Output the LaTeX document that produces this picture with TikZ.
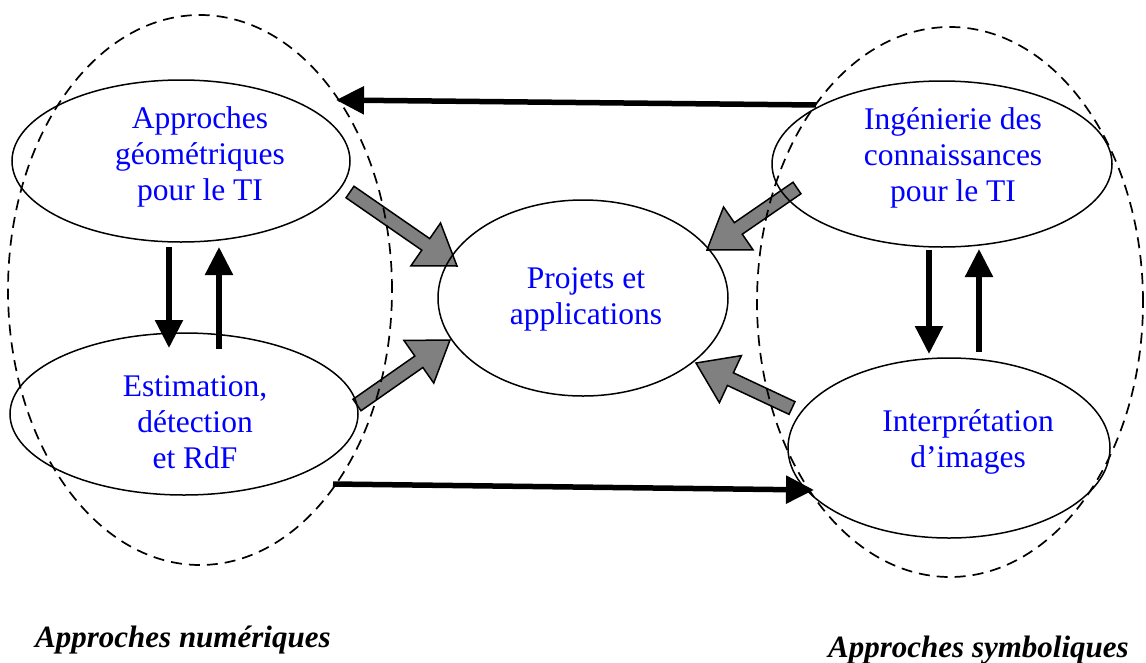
\documentclass[tikz,border=0pt]{standalone}
\usepackage{fontspec}
\setmainfont{Liberation Serif}
\usetikzlibrary{arrows.meta,calc,shapes.geometric}
\pgfdeclarelayer{background}
\pgfsetlayers{background,main}
\tikzset{
  oval/.style={draw, ellipse, line width=1.5pt, inner sep=0pt},
  zone/.style={draw, ellipse, dash pattern=on 11pt off 7pt, line width=1.7pt, inner sep=0pt},
  lbl/.style={text=blue, align=center, inner sep=0pt, font=\fontsize{31.5}{36}\selectfont},
  groupcap/.style={font=\fontsize{31}{36}\selectfont\bfseries\itshape, anchor=base west, inner sep=0pt},
  bigarrow/.style={line width=5.5pt, -{Triangle[length=28pt,width=27pt]}},
  blockstyle/.style={fill=gray, draw=black, line width=1.5pt, line join=miter},
}
\newcommand\blockarrow[2]{%
  \coordinate (bacc) at ($(#2)!38pt!(#1)$);
  \draw[blockstyle] ($(#1)!7pt!90:(#2)$) -- ($(bacc)!7pt!90:(#2)$) -- ($(bacc)!26pt!90:(#2)$) -- (#2)
    -- ($(bacc)!26pt!-90:(#2)$) -- ($(bacc)!7pt!-90:(#2)$) -- ($(#1)!7pt!-90:(#2)$) -- cycle;
}
\begin{document}
\begin{tikzpicture}[x=1pt,y=-1pt]
\useasboundingbox (0,0) rectangle (1146,662);
% zones
\node[zone, minimum width=384pt, minimum height=550pt] (numz) at (200,290) {};
\node[zone, minimum width=386pt, minimum height=550pt] (symz) at (950,302) {};
% ellipses
\node[oval, minimum width=338pt, minimum height=162pt] (geo) at (181,161) {};
\node[oval, minimum width=348pt, minimum height=162pt] (est) at (184,414) {};
\node[oval, minimum width=290pt, minimum height=196pt] (proj) at (583,298) {};
\node[oval, minimum width=340pt, minimum height=166pt] (ing) at (942,164) {};
\node[oval, minimum width=322pt, minimum height=180pt] (interp) at (949,448) {};
% texts
\node[lbl] (geot) at (200,157) {Approches\\géométriques\\pour le TI};
\node[lbl] (estt) at (195,422) {Estimation,\\détection\\et RdF};
\node[lbl] (projt) at (586,299) {Projets et\\applications};
\node[lbl] (ingt) at (953,158) {Ingénierie des\\connaissances\\pour le TI};
\node[lbl] (interpt) at (968,442) {Interprétation\\d’images};
\node[groupcap] (numc) at (35,647) {Approches numériques};
\node[groupcap] (symc) at (828,657) {Approches symboliques};
% coordinates for connectors
\coordinate (topS) at (816,105);
\coordinate (topE) at (336,100);
\coordinate (botS) at (333,484);
\coordinate (botE) at (814,490);
\coordinate (ldS) at (169,247);
\coordinate (ldE) at (169,348);
\coordinate (luS) at (219,349);
\coordinate (luE) at (219,247);
\coordinate (rdS) at (929,250);
\coordinate (rdE) at (929,354);
\coordinate (ruS) at (979,352);
\coordinate (ruE) at (979,249);
\coordinate (b1S) at (350,192);
\coordinate (b1E) at (457,266);
\coordinate (b2S) at (357,405);
\coordinate (b2E) at (450,340);
\coordinate (b3S) at (797,188);
\coordinate (b3E) at (707,250);
\coordinate (b4S) at (792,408);
\coordinate (b4E) at (696,363);
% black arrows
\draw[bigarrow] (topS) -- (topE);
\draw[bigarrow] (botS) -- (botE);
\draw[bigarrow] (ldS) -- (ldE);
\draw[bigarrow] (luS) -- (luE);
\draw[bigarrow] (rdS) -- (rdE);
\draw[bigarrow] (ruS) -- (ruE);
% block arrows
\begin{pgfonlayer}{background}
\blockarrow{b1S}{b1E}
\blockarrow{b2S}{b2E}
\blockarrow{b3S}{b3E}
\blockarrow{b4S}{b4E}
\end{pgfonlayer}
\end{tikzpicture}
\end{document}
